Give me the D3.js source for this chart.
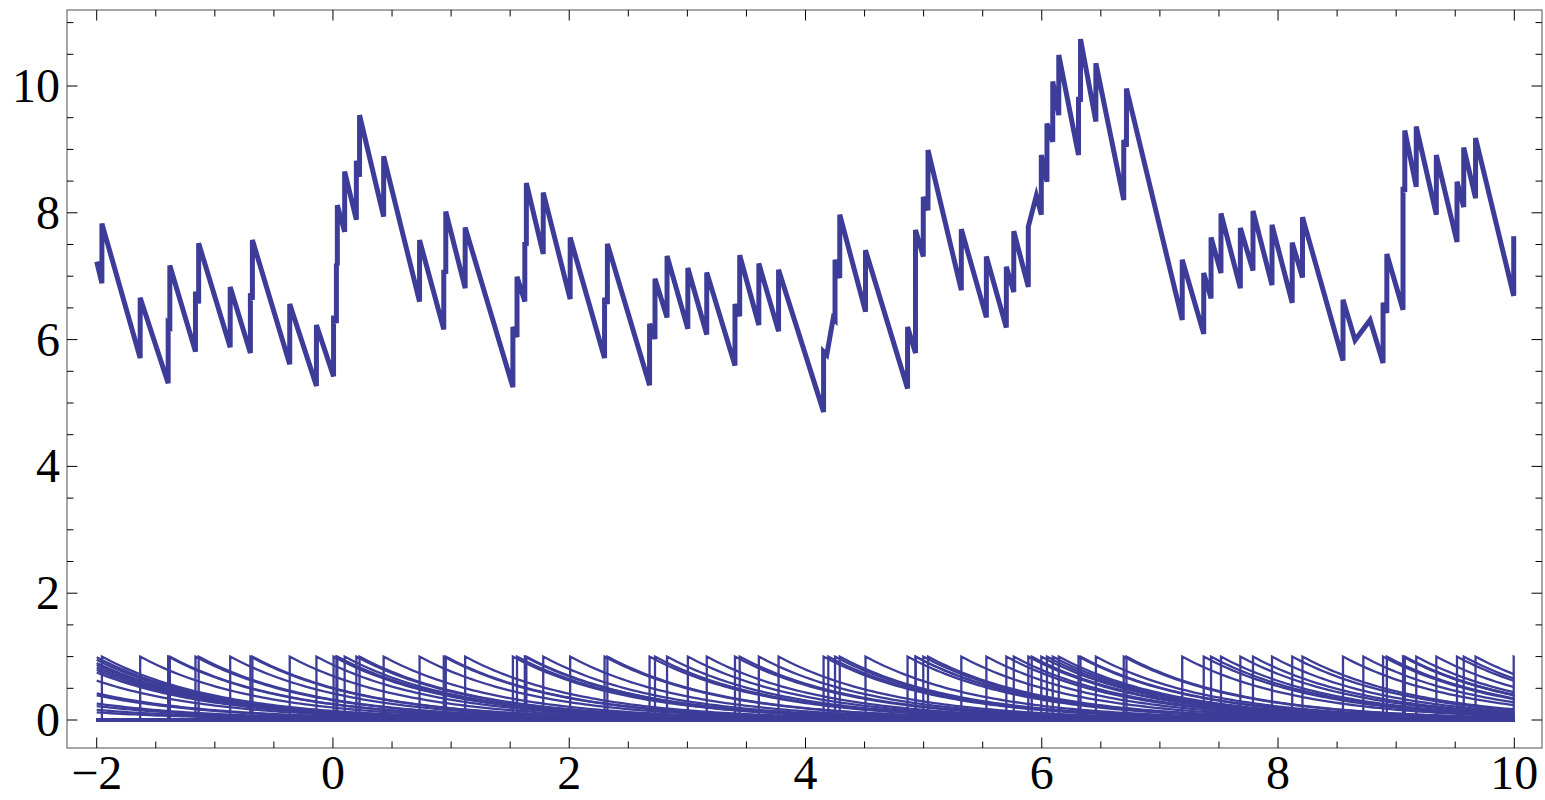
<!DOCTYPE html>
<html lang="en">
<head>
<meta charset="UTF-8">
<title>Shot noise</title>
<style>
  body { margin: 0; background: #fff; }
  .frame { fill: none; stroke: #777; stroke-width: 1.3px; }
  .tick { stroke: #000; stroke-width: 1px; }
  .label { font-family: "Liberation Serif", "Times New Roman", serif; font-size: 48px; fill: #000; }
  .total { fill: none; stroke: #3d3d99; stroke-width: 5px; }
  .pulse { fill: none; stroke: #3d3d99; stroke-width: 2.3px; }
</style>
</head>
<body>
<svg id="chart" width="1545" height="800"></svg>
<script src="https://d3js.org/d3.v7.min.js"></script>
<script>
// summed signal, vertices [t, value]
var totalCurve = [
  [-2.000, 7.23],
  [-1.956, 6.89], [-1.956, 7.83],
  [-1.632, 5.71], [-1.632, 6.66],
  [-1.395, 5.31], [-1.395, 6.25],
  [-1.381, 6.22], [-1.381, 7.17],
  [-1.164, 5.81], [-1.164, 6.76],
  [-1.137, 6.57], [-1.137, 7.52],
  [-0.870, 5.88], [-0.870, 6.83],
  [-0.699, 5.79], [-0.699, 6.73],
  [-0.682, 6.63], [-0.682, 7.57],
  [-0.366, 5.61], [-0.366, 6.56],
  [-0.140, 5.27], [-0.140, 6.23],
  [0.005, 5.42], [0.005, 6.38],
  [0.029, 6.26], [0.029, 7.20],
  [0.037, 7.17], [0.037, 8.12],
  [0.099, 7.70], [0.099, 8.65],
  [0.198, 7.89], [0.198, 8.82],
  [0.225, 8.57], [0.225, 9.54],
  [0.429, 7.94], [0.429, 8.89],
  [0.733, 6.60], [0.733, 7.57],
  [0.938, 6.16], [0.938, 7.10],
  [0.955, 7.04], [0.955, 8.02],
  [1.119, 6.81], [1.119, 7.77],
  [1.523, 5.25], [1.523, 6.20],
  [1.558, 6.04], [1.558, 6.99],
  [1.624, 6.60], [1.624, 7.54],
  [1.637, 7.48], [1.637, 8.47],
  [1.780, 7.35], [1.780, 8.32],
  [2.008, 6.64], [2.008, 7.61],
  [2.299, 5.71], [2.299, 6.66],
  [2.323, 6.56], [2.323, 7.51],
  [2.680, 5.28], [2.680, 6.25],
  [2.726, 6.01], [2.726, 6.96],
  [2.828, 6.35], [2.828, 7.32],
  [3.004, 6.17], [3.004, 7.13],
  [3.164, 6.08], [3.164, 7.06],
  [3.403, 5.59], [3.403, 6.56],
  [3.443, 6.37], [3.443, 7.33],
  [3.605, 6.23], [3.605, 7.20],
  [3.772, 6.13], [3.772, 7.10],
  [4.153, 4.86], [4.153, 5.81],
  [4.180, 5.76],
  [4.235, 6.34],
  [4.250, 6.31], [4.250, 7.26],
  [4.290, 6.97], [4.290, 7.97],
  [4.508, 6.44], [4.508, 7.41],
  [4.864, 5.23], [4.864, 6.20],
  [4.931, 5.79], [4.931, 7.73],
  [4.997, 7.31], [4.997, 8.25],
  [5.037, 8.04], [5.037, 8.99],
  [5.319, 6.78], [5.319, 7.74],
  [5.531, 6.35], [5.531, 7.31],
  [5.700, 6.19], [5.700, 7.15],
  [5.763, 6.75], [5.763, 7.71],
  [5.886, 6.83], [5.886, 7.78],
  [5.954, 8.27],
  [5.996, 7.97], [5.996, 8.91],
  [6.044, 8.49], [6.044, 9.41],
  [6.093, 9.12], [6.093, 10.07],
  [6.144, 9.54], [6.144, 10.49],
  [6.311, 8.91], [6.311, 9.83],
  [6.328, 9.75], [6.328, 10.74],
  [6.458, 9.44], [6.458, 10.36],
  [6.694, 8.20], [6.694, 9.15],
  [6.717, 9.04], [6.717, 9.96],
  [7.189, 6.31], [7.189, 7.26],
  [7.371, 6.09], [7.371, 7.05],
  [7.433, 6.65], [7.433, 7.61],
  [7.517, 7.05], [7.517, 7.99],
  [7.681, 6.81], [7.681, 7.76],
  [7.788, 7.09], [7.788, 8.03],
  [7.949, 6.86], [7.949, 7.81],
  [8.120, 6.58], [8.120, 7.53],
  [8.207, 6.98], [8.207, 7.93],
  [8.550, 5.67], [8.550, 6.63],
  [8.652, 5.99],
  [8.779, 6.31],
  [8.889, 5.63], [8.889, 6.58],
  [8.921, 6.42], [8.921, 7.35],
  [9.058, 6.47], [9.058, 8.41],
  [9.073, 8.33], [9.073, 9.30],
  [9.170, 8.41], [9.170, 9.36],
  [9.340, 7.97], [9.340, 8.91],
  [9.515, 7.54], [9.515, 8.49],
  [9.572, 8.09], [9.572, 9.03],
  [9.672, 8.23], [9.672, 9.18],
  [9.995, 6.69], [9.995, 7.63]
];

// arrival times of the single pulses
var jumpTimes = [
  -1.956, -1.632, -1.395, -1.381, -1.164, -1.137, -0.870, -0.699, -0.682, -0.366,
  -0.140, 0.005, 0.029, 0.037, 0.099, 0.198, 0.225, 0.429, 0.733, 0.938,
  0.955, 1.119, 1.523, 1.558, 1.624, 1.637, 1.780, 2.008, 2.299, 2.323,
  2.680, 2.726, 2.828, 3.004, 3.164, 3.403, 3.443, 3.605, 3.772, 4.153,
  4.193, 4.250, 4.290, 4.508, 4.864, 4.931, 4.933, 4.997, 5.037, 5.319,
  5.531, 5.700, 5.763, 5.886, 5.915, 5.996, 6.044, 6.093, 6.144, 6.311,
  6.328, 6.458, 6.694, 6.717, 7.189, 7.371, 7.433, 7.517, 7.681, 7.788,
  7.949, 8.120, 8.207, 8.550, 8.722, 8.889, 8.921, 9.058, 9.060, 9.073,
  9.170, 9.340, 9.515, 9.572, 9.672, 9.995
];

// heights at t = -2 of pulses that arrived before the window
var startLevels = [0.99, 0.95, 0.90, 0.87, 0.83, 0.79, 0.75, 0.62, 0.42, 0.39, 0.26, 0.22, 0.16, 0.12];

var decayTime = 1.0;
var tEnd = 10;
var xTicks = [-2, 0, 2, 4, 6, 8, 10];
var yTicks = [0, 2, 4, 6, 8, 10];

var svg = d3.select("#chart");
var box = { left: 67, right: 1542, top: 10, bottom: 748 };

var x = d3.scaleLinear().domain([-2, 10]).range([96.7, 1514.3]);
var y = d3.scaleLinear().domain([0, 10]).range([720, 86]);

var line = d3.line()
  .x(function(d) { return x(d[0]); })
  .y(function(d) { return y(d[1]); });

// build the pulse polylines
function pulseFrom(t0, h0, withStep) {
  var pts = [];
  if (withStep) {
    pts.push([-2, 0]);
    pts.push([t0, 0]);
  }
  var n = Math.max(2, Math.ceil((tEnd - t0) / 0.04));
  for (var i = 0; i <= n; i++) {
    var t = t0 + (tEnd - t0) * i / n;
    pts.push([t, h0 * Math.exp(-(t - t0) / decayTime)]);
  }
  return pts;
}

var pulses = [];
startLevels.forEach(function(v) { pulses.push(pulseFrom(-2, v, false)); });
jumpTimes.forEach(function(t) { pulses.push(pulseFrom(t, 1, true)); });

svg.append("g").selectAll("path")
  .data(pulses)
  .enter().append("path")
  .attr("class", "pulse")
  .attr("d", line);

svg.append("path")
  .datum(totalCurve)
  .attr("class", "total")
  .attr("d", line);

// frame
svg.append("rect")
  .attr("class", "frame")
  .attr("x", box.left)
  .attr("y", box.top)
  .attr("width", box.right - box.left)
  .attr("height", box.bottom - box.top);

// ticks on all four sides
var xLo = x.invert(box.left), xHi = x.invert(box.right);
var yLo = y.invert(box.bottom), yHi = y.invert(box.top);
var xAll = d3.range(Math.ceil(xLo * 2) / 2, xHi, 0.5);
var yAll = d3.range(Math.ceil(yLo * 2) / 2, yHi, 0.5);

var ticks = svg.append("g");
xAll.forEach(function(v) {
  var len = (Math.abs(v % 2) < 1e-9) ? 10.5 : 6.5;
  ticks.append("line").attr("class", "tick")
    .attr("x1", x(v)).attr("x2", x(v))
    .attr("y1", box.bottom).attr("y2", box.bottom - len);
  ticks.append("line").attr("class", "tick")
    .attr("x1", x(v)).attr("x2", x(v))
    .attr("y1", box.top).attr("y2", box.top + len);
});
yAll.forEach(function(v) {
  var len = (Math.abs(v % 2) < 1e-9) ? 10.5 : 6.5;
  ticks.append("line").attr("class", "tick")
    .attr("x1", box.left).attr("x2", box.left + len)
    .attr("y1", y(v)).attr("y2", y(v));
  ticks.append("line").attr("class", "tick")
    .attr("x1", box.right).attr("x2", box.right - len)
    .attr("y1", y(v)).attr("y2", y(v));
});

function fmt(v) { return v < 0 ? "\u2212" + Math.abs(v) : String(v); }

svg.append("g").selectAll("text")
  .data(xTicks)
  .enter().append("text")
  .attr("class", "label")
  .attr("x", function(d) { return x(d); })
  .attr("y", 789)
  .attr("text-anchor", "middle")
  .text(fmt);

svg.append("g").selectAll("text")
  .data(yTicks)
  .enter().append("text")
  .attr("class", "label")
  .attr("x", 60)
  .attr("y", function(d) { return y(d) + 16; })
  .attr("text-anchor", "end")
  .text(fmt);
</script>
</body>
</html>
